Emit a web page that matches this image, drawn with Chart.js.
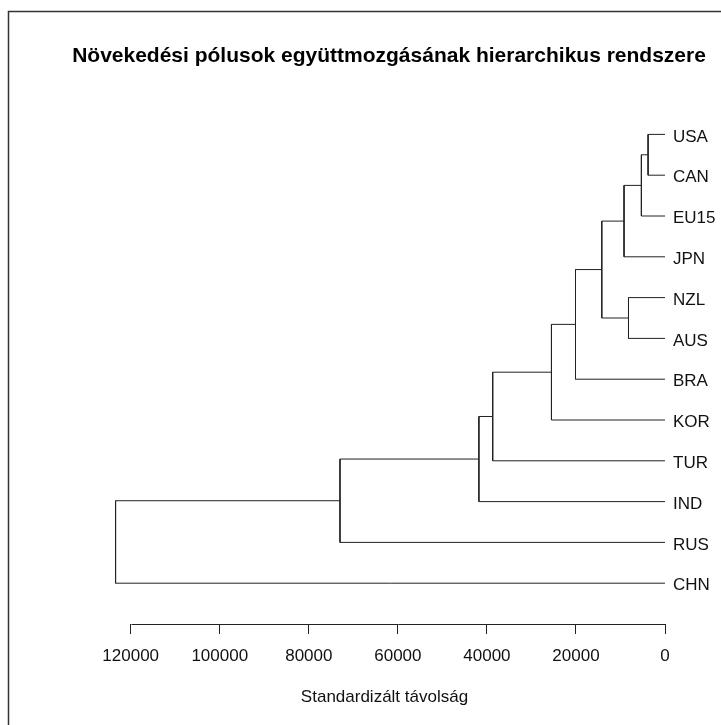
<!DOCTYPE html>
<html>
<head>
<meta charset="utf-8">
<script src="https://cdn.jsdelivr.net/npm/chart.js@4/dist/chart.umd.min.js"></script>
<style>
  body { margin: 0; background: #fff; }
  canvas { display: block; }
</style>
</head>
<body>
<canvas id="grafico" width="721" height="725"></canvas>
<script>
// levelek (felülről lefelé)
const levelek = ['USA', 'CAN', 'EU15', 'JPN', 'NZL', 'AUS', 'BRA', 'KOR', 'TUR', 'IND', 'RUS', 'CHN'];
// összevonások R hclust stílusban: negatív = levél, pozitív = korábbi összevonás
const mergeBal = [-1, 1, -5, 2, 4, 5, 6, 7, 8, 9, 10];
const mergeJobb = [-2, -3, -6, -4, 3, -7, -8, -9, -10, -11, -12];
const mergeMagassag = [3800, 5300, 8200, 9200, 14200, 20100, 25500, 38700, 41800, 73000, 123400];
const tickErtekek = [0, 20000, 40000, 60000, 80000, 100000, 120000];
const cim = 'Növekedési pólusok együttmozgásának hierarchikus rendszere';

const betu = '"Liberation Sans", Arial, sans-serif';
const vonalSzin = '#222';

// dendrogram szakaszok felépítése
const csomopontY = [];
function gyerek(c) {
  if (c < 0) {
    return { h: 0, y: -c - 1 };
  }
  return { h: mergeMagassag[c - 1], y: csomopontY[c - 1] };
}
const adatsorok = mergeMagassag.map(function (h, i) {
  const a = gyerek(mergeBal[i]);
  const b = gyerek(mergeJobb[i]);
  csomopontY[i] = (a.y + b.y) / 2;
  return {
    data: [
      { x: a.h, y: a.y },
      { x: h, y: a.y },
      { x: h, y: b.y },
      { x: b.h, y: b.y }
    ],
    showLine: true,
    borderColor: vonalSzin,
    borderWidth: 1,
    pointRadius: 0,
    tension: 0
  };
});

const kiegeszitok = {
  id: 'kiegeszitok',
  afterDraw: function (chart) {
    const ctx = chart.ctx;
    const sx = chart.scales.x;
    const sy = chart.scales.y;
    ctx.save();
    // tengelyvonal csak az első és utolsó osztás között
    const yTengely = Math.round(chart.chartArea.bottom) + 0.5;
    ctx.strokeStyle = vonalSzin;
    ctx.lineWidth = 1;
    ctx.beginPath();
    ctx.moveTo(Math.round(sx.getPixelForValue(tickErtekek[tickErtekek.length - 1])) + 0.5, yTengely);
    ctx.lineTo(Math.round(sx.getPixelForValue(tickErtekek[0])) + 0.5, yTengely);
    ctx.stroke();

    // levélcímkék
    ctx.font = '17px ' + betu;
    ctx.fillStyle = '#111';
    ctx.textAlign = 'left';
    ctx.textBaseline = 'middle';
    levelek.forEach(function (nev, i) {
      ctx.fillText(nev, sx.getPixelForValue(0) + 8, sy.getPixelForValue(i) + 2.5);
    });

    // főcím (nem szűkítve a rajzterület szélességére)
    ctx.font = 'bold 21px ' + betu;
    ctx.fillStyle = '#000';
    ctx.textAlign = 'center';
    ctx.fillText(cim, 389, 56);

    // keret
    ctx.strokeStyle = '#333';
    ctx.lineWidth = 1.5;
    ctx.beginPath();
    ctx.moveTo(8.5, chart.height + 2);
    ctx.lineTo(8.5, 11.5);
    ctx.lineTo(chart.width + 2, 11.5);
    ctx.stroke();
    ctx.restore();
  }
};

new Chart(document.getElementById('grafico'), {
  type: 'scatter',
  data: { datasets: adatsorok },
  plugins: [kiegeszitok],
  options: {
    responsive: false,
    animation: false,
    layout: { padding: { left: 104, right: 56, top: 93.6, bottom: 0 } },
    plugins: {
      legend: { display: false },
      tooltip: { enabled: false },
      title: { display: false }
    },
    scales: {
      x: {
        type: 'linear',
        reverse: true,
        min: 0,
        max: 126000,
        afterBuildTicks: function (scale) {
          scale.ticks = tickErtekek.map(function (v) { return { value: v }; });
        },
        afterFit: function (scale) {
          scale.height = 101;
        },
        ticks: {
          color: '#111',
          font: { family: betu, size: 17 },
          padding: 12,
          maxRotation: 0,
          autoSkip: false,
          callback: function (v) { return String(v); }
        },
        grid: {
          drawOnChartArea: false,
          drawTicks: true,
          tickLength: 10,
          color: vonalSzin
        },
        border: { display: false },
        title: {
          display: true,
          text: 'Standardizált távolság',
          color: '#111',
          font: { family: betu, size: 17 },
          padding: { top: 0, bottom: 17 }
        }
      },
      y: {
        type: 'linear',
        display: false,
        reverse: true,
        min: -1,
        max: 12
      }
    }
  }
});
</script>
</body>
</html>
